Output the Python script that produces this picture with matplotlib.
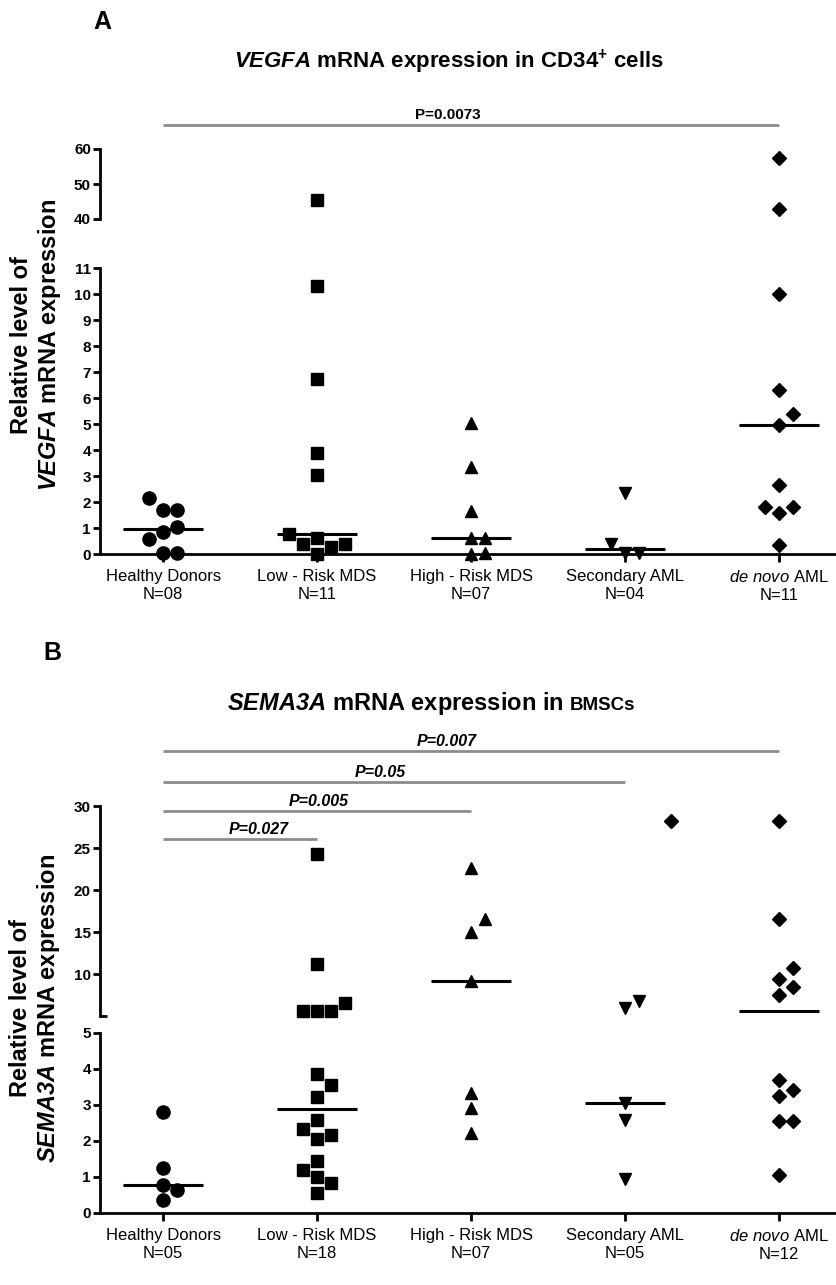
import numpy as np
import matplotlib
matplotlib.use("Agg")
import matplotlib.pyplot as plt
from matplotlib.ticker import FixedLocator

plt.rcParams['font.family'] = ['Liberation Sans', 'DejaVu Sans']
plt.rcParams['mathtext.fontset'] = 'custom'
plt.rcParams['mathtext.it'] = 'Liberation Sans:italic:bold'
# digits inside \mathit fall back to 'rm' -> make them bold italic too
plt.rcParams['mathtext.rm'] = 'Liberation Sans:italic:bold'
plt.rcParams['mathtext.sf'] = 'Liberation Sans:italic'
plt.rcParams['mathtext.bf'] = 'Liberation Sans:bold'

# ---------------- data ----------------
groups = ['Healthy Donors', 'Low - Risk MDS', 'High - Risk MDS', 'Secondary AML',
          r'$\mathsf{de\ novo}$ AML']
n_a = ['N=08', 'N=11', 'N=07', 'N=04', 'N=11']
n_b = ['N=05', 'N=18', 'N=07', 'N=05', 'N=12']

vegfa_healthy = [2.15, 1.7, 1.7, 1.05, 0.85, 0.57, 0.05, 0.05]
vegfa_low = [45.4, 10.3, 6.75, 3.87, 3.03, 0.76, 0.63, 0.4, 0.37, 0.28, 0.0]
vegfa_high = [5.03, 3.36, 1.67, 0.63, 0.63, 0.05, 0.0]
vegfa_sec = [2.33, 0.37, 0.05, 0.05]
vegfa_denovo = [57.3, 42.9, 10.0, 6.31, 5.38, 4.96, 2.65, 1.82, 1.82, 1.56, 0.35]

sema_healthy = [2.81, 1.26, 0.78, 0.64, 0.36]
sema_low = [24.3, 11.2, 6.6, 5.6, 5.6, 5.6, 3.85, 3.56, 3.21, 2.58, 2.32, 2.17,
            2.05, 1.45, 1.19, 1.01, 0.84, 0.56]
sema_high = [22.6, 16.5, 15.0, 9.2, 3.34, 2.91, 2.23]
sema_sec = [6.8, 5.9, 3.05, 2.58, 0.94]
sema_denovo = [28.2, 16.5, 10.7, 9.4, 8.5, 7.5, 3.69, 3.42, 3.25, 2.56, 2.56, 1.06]
sema_extra_x = [3.3]      # stray diamond drawn beside Secondary AML
sema_extra_y = [28.2]

pvals_a = ['P=0.0073']
pend_a = [4]
pvals_b = ['P=0.027', 'P=0.005', 'P=0.05', 'P=0.007']
pend_b = [1, 2, 3, 4]

# ---------------- layout / style ----------------
W, H = 836, 1285
fig = plt.figure(figsize=(W / 100, H / 100), dpi=100)

def rect(x0, x1, ytop, ybot):
    return [x0 / W, 1 - ybot / H, (x1 - x0) / W, (ybot - ytop) / H]

XLIM = (-0.41, 4.37)
markers = ['o', 's', '^', 'v', 'D']
msizes = [9.5, 8.5, 9.0, 9.0, 7.0]
SPINE_W = 2.0
GRAY = '#8c8c8c'

def style_axis(ax, ylim, yticks, minor_in, bottom):
    ax.set_xlim(*XLIM)
    ax.set_ylim(*ylim)
    ax.patch.set_visible(False)
    for s in ['top', 'right']:
        ax.spines[s].set_visible(False)
    ax.spines['left'].set_linewidth(SPINE_W)
    ax.spines['bottom'].set_linewidth(SPINE_W)
    ax.spines['bottom'].set_visible(bottom)
    ax.set_yticks(yticks)
    ax.set_yticklabels([str(t) for t in yticks])
    ax.tick_params(axis='y', which='major', direction='out', length=5, width=SPINE_W,
                   labelsize=11, pad=1.5)
    for lab in ax.get_yticklabels():
        lab.set_fontweight('bold')
    ax.yaxis.set_minor_locator(FixedLocator(minor_in))
    ax.tick_params(axis='y', which='minor', direction='in', length=5, width=SPINE_W)
    if bottom:
        ax.set_xticks(range(5))
        ax.tick_params(axis='x', direction='out', length=6, width=SPINE_W,
                       labelsize=12, pad=5)
    else:
        ax.set_xticks([])

def swarm(ax, xc, vals, step_px=14.0, h_px=14.0):
    vals = np.asarray(vals, dtype=float)
    pts = ax.transData.transform(np.column_stack([np.full(len(vals), xc), vals]))
    ys = pts[:, 1]
    ks = np.zeros(len(vals))
    placed = []
    for i in np.argsort(vals, kind='stable'):
        for k in [0, 1, -1, 2, -2, 3, -3]:
            if all(not (kk == k and abs(yy - ys[i]) < h_px) for kk, yy in placed):
                ks[i] = k
                placed.append((k, ys[i]))
                break
    x0 = pts[0, 0] if len(vals) else 0
    back = ax.transData.inverted().transform(np.column_stack([x0 + ks * step_px, ys]))
    return back[:, 0]

def draw_panel(ax_up, ax_lo, split, data, ntexts):
    for i, vals in enumerate(data):
        vals = np.asarray(vals, dtype=float)
        for ax, mask in [(ax_lo, vals <= split), (ax_up, vals > split)]:
            v = vals[mask]
            if len(v) == 0:
                continue
            xs = swarm(ax, i, v)
            ax.plot(xs, v, linestyle='none', marker=markers[i], ms=msizes[i],
                    color='black', clip_on=False, zorder=5)
        med = np.median(vals)
        axm = ax_lo if med <= split else ax_up
        axm.plot([i - 0.26, i + 0.26], [med, med], color='black', lw=2.2,
                 solid_capstyle='butt', zorder=6)
    ax_lo.set_xticklabels([f'{g}\n{n}' for g, n in zip(groups, ntexts)],
                          linespacing=1.25)

# ---------------- Panel A ----------------
axA_up = fig.add_axes(rect(100, 836, 149, 219))
axA_lo = fig.add_axes(rect(100, 836, 268, 554))
style_axis(axA_up, (40, 60), [40, 50, 60], [40], False)
style_axis(axA_lo, (0, 11), list(range(12)), [11], True)
draw_panel(axA_up, axA_lo, 11,
           [vegfa_healthy, vegfa_low, vegfa_high, vegfa_sec, vegfa_denovo], n_a)

for txt, end, ylev, xt in zip(pvals_a, pend_a, [66.9], [1.85]):
    axA_up.plot([0, end], [ylev, ylev], color=GRAY, lw=2.0, clip_on=False,
                solid_capstyle='butt')
    axA_up.annotate(txt, xy=(xt, ylev), xytext=(0, 4.5), textcoords='offset points',
                    ha='center', va='baseline', fontsize=11, fontweight='bold',
                    annotation_clip=False)

# ---------------- Panel B ----------------
axB_up = fig.add_axes(rect(100, 836, 806, 1016))
axB_lo = fig.add_axes(rect(100, 836, 1033, 1213))
style_axis(axB_up, (5, 30), [10, 15, 20, 25, 30], [5], False)
style_axis(axB_lo, (0, 5), list(range(6)), [5], True)
draw_panel(axB_up, axB_lo, 5,
           [sema_healthy, sema_low, sema_high, sema_sec, sema_denovo], n_b)
axB_up.plot(sema_extra_x, sema_extra_y, linestyle='none', marker='D', ms=7,
            color='black', clip_on=False, zorder=5)

for txt, end, ylev, xt in zip(pvals_b, pend_b, [26.07, 29.40, 32.86, 36.55],
                              [0.62, 1.01, 1.41, 1.84]):
    axB_up.plot([0, end], [ylev, ylev], color=GRAY, lw=2.0, clip_on=False,
                solid_capstyle='butt')
    axB_up.annotate(txt, xy=(xt, ylev), xytext=(0, 3.5), textcoords='offset points',
                    ha='center', va='baseline', fontsize=11.5, fontweight='bold',
                    fontstyle='italic', annotation_clip=False)

# ---------------- texts ----------------
def fx(px):
    return px / W

def fy(py):
    return 1 - py / H

fig.text(fx(102), fy(22), 'A', fontsize=18, fontweight='bold', ha='center', va='center')
fig.text(fx(52), fy(653), 'B', fontsize=18, fontweight='bold', ha='center', va='center')

fig.text(fx(449), fy(62), r'$\mathit{VEGFA}$ mRNA expression in CD34$^{\mathbf{+}}$ cells',
         fontsize=16, fontweight='bold', ha='center', va='center')

tB = fig.text(fx(227), fy(710), r'$\mathit{SEMA3A}$ mRNA expression in',
              fontsize=17, fontweight='bold', ha='left', va='baseline')
renderer = fig.canvas.get_renderer()
bb = tB.get_window_extent(renderer)
fig.text((bb.x1 + 6) / W, fy(710), 'BMSCs', fontsize=13.5, fontweight='bold',
         ha='left', va='baseline')

fig.text(fx(37), fy(345), 'Relative level of\n' + r'$\mathit{VEGFA}$ mRNA expression',
         rotation=90, fontsize=17, fontweight='bold', ha='center', va='center',
         multialignment='center', linespacing=1.15)
fig.text(fx(36), fy(1008), 'Relative level of\n' + r'$\mathit{SEMA3A}$ mRNA expression',
         rotation=90, fontsize=17, fontweight='bold', ha='center', va='center',
         multialignment='center', linespacing=1.15)

fig.savefig('out.png', dpi=100)
